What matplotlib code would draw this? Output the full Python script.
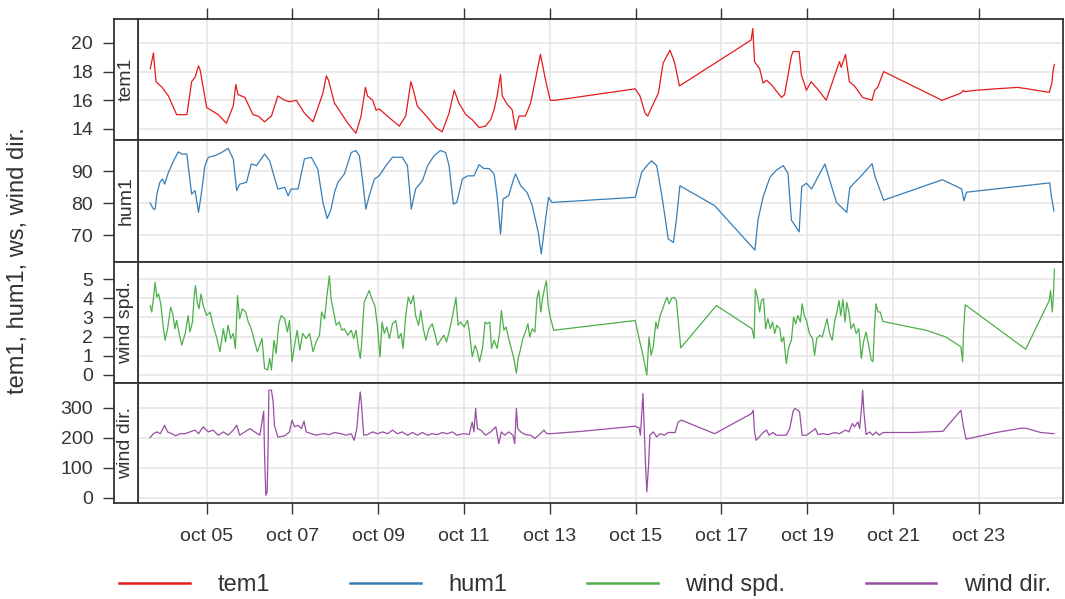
import numpy as np
import pandas as pd
import matplotlib
matplotlib.use("Agg")
from matplotlib import pyplot as plt
import matplotlib.dates as mdates
from matplotlib.lines import Line2D

plt.rcParams['font.family'] = ['Liberation Sans', 'DejaVu Sans']

# (day of October, value) pairs for each measured series
TEM1 = [(3.685, 18.2), (3.72, 18.7), (3.76, 19.3), (3.78, 18.6), (3.82, 17.3), (3.96, 16.9),
        (4.11, 16.3), (4.30, 15.0), (4.54, 15.0), (4.65, 17.3), (4.73, 17.6), (4.81, 18.4),
        (4.85, 18.1), (5.00, 15.5), (5.27, 15.0), (5.46, 14.4), (5.62, 15.6), (5.68, 17.1),
        (5.73, 16.4), (5.89, 16.2), (6.08, 15.0), (6.20, 14.9), (6.35, 14.5), (6.51, 14.9),
        (6.66, 16.3), (6.82, 16.0), (6.93, 15.9), (7.09, 16.0), (7.28, 15.1), (7.48, 14.5),
        (7.71, 16.5), (7.79, 17.7), (7.84, 17.4), (7.98, 15.8), (8.29, 14.4), (8.48, 13.7),
        (8.60, 14.9), (8.70, 16.9), (8.75, 16.3), (8.87, 16.0), (8.95, 15.3), (9.02, 15.4),
        (9.29, 14.7), (9.49, 14.2), (9.64, 14.9), (9.76, 17.3), (9.82, 16.7), (9.91, 15.6),
        (10.15, 14.8), (10.34, 14.1), (10.49, 13.8), (10.65, 15.1), (10.77, 16.7), (10.88, 15.8),
        (11.04, 15.0), (11.19, 14.65), (11.35, 14.1), (11.50, 14.2), (11.62, 14.65), (11.70, 15.35),
        (11.77, 16.3), (11.85, 17.8), (11.89, 16.3), (12.01, 15.7), (12.12, 15.35), (12.20, 13.95),
        (12.28, 14.9), (12.43, 14.9), (12.55, 15.8), (12.68, 17.7), (12.78, 19.2), (12.90, 17.4),
        (13.01, 16.0), (13.13, 16.0), (14.99, 16.8), (15.10, 16.3), (15.22, 15.1), (15.28, 14.9),
        (15.37, 15.5), (15.53, 16.5), (15.64, 18.6), (15.80, 19.5), (15.91, 18.6), (16.02, 17.0),
        (17.69, 20.2), (17.73, 21.0), (17.77, 18.7), (17.89, 18.2), (17.97, 17.2), (18.05, 17.4),
        (18.16, 17.1), (18.40, 16.2), (18.47, 16.4), (18.63, 19.1), (18.67, 19.4), (18.81, 19.4),
        (18.86, 17.8), (18.98, 16.7), (19.09, 17.3), (19.29, 16.6), (19.44, 16.0), (19.60, 17.4),
        (19.75, 18.7), (19.79, 18.3), (19.89, 19.2), (19.98, 17.3), (20.10, 17.0), (20.29, 16.2),
        (20.51, 16.0), (20.57, 16.7), (20.64, 16.9), (20.78, 18.0), (22.14, 16.0), (22.58, 16.5),
        (22.64, 16.7), (22.66, 16.6), (22.93, 16.7), (23.40, 16.8), (23.90, 16.9), (24.13, 16.8),
        (24.64, 16.55), (24.70, 17.2), (24.73, 18.1), (24.76, 18.5)]

HUM1 = [(3.685, 80.0), (3.76, 78.1), (3.80, 78.1), (3.84, 82.8), (3.91, 86.5), (3.97, 87.5),
        (4.02, 85.9), (4.11, 89.6), (4.23, 93.2), (4.34, 96.0), (4.42, 95.3), (4.54, 95.3),
        (4.57, 91.7), (4.65, 82.8), (4.73, 83.9), (4.81, 77.1), (4.87, 82.3), (4.96, 91.7),
        (5.04, 94.3), (5.19, 94.8), (5.35, 95.8), (5.50, 97.1), (5.62, 93.8), (5.70, 83.9),
        (5.77, 85.9), (5.93, 86.5), (6.04, 92.2), (6.16, 91.7), (6.35, 95.3), (6.47, 93.2),
        (6.59, 87.5), (6.66, 84.4), (6.82, 84.9), (6.90, 82.3), (6.97, 84.4), (7.13, 84.4),
        (7.28, 93.8), (7.44, 94.3), (7.59, 90.6), (7.71, 80.2), (7.81, 75.2), (7.90, 78.1),
        (7.98, 83.3), (8.06, 86.5), (8.21, 89.1), (8.37, 95.8), (8.48, 96.4), (8.56, 94.8),
        (8.64, 86.5), (8.71, 78.1), (8.79, 82.3), (8.91, 87.5), (9.02, 88.5), (9.18, 91.7),
        (9.33, 94.3), (9.56, 94.3), (9.68, 91.7), (9.77, 78.1), (9.87, 84.4), (10.03, 87.0),
        (10.15, 91.7), (10.30, 94.8), (10.45, 96.4), (10.57, 95.8), (10.65, 91.7), (10.75, 79.7),
        (10.83, 80.2), (10.96, 87.5), (11.08, 88.5), (11.23, 88.5), (11.35, 92.0), (11.46, 90.8),
        (11.58, 90.8), (11.70, 89.1), (11.77, 82.3), (11.85, 70.3), (11.91, 81.3), (12.04, 82.3),
        (12.16, 87.7), (12.20, 89.1), (12.32, 85.4), (12.47, 83.3), (12.59, 79.2), (12.73, 70.8),
        (12.80, 64.1), (12.90, 75.0), (12.97, 81.8), (13.05, 80.2), (14.99, 81.8), (15.14, 89.6),
        (15.26, 91.7), (15.37, 93.2), (15.49, 91.7), (15.61, 82.3), (15.76, 68.8), (15.88, 67.7),
        (15.95, 75.0), (16.03, 85.4), (16.84, 79.2), (17.78, 65.3), (17.85, 74.7), (17.97, 81.9),
        (18.13, 88.1), (18.28, 90.3), (18.44, 91.7), (18.55, 89.3), (18.63, 74.7), (18.81, 71.0),
        (18.87, 85.1), (18.98, 86.2), (19.10, 84.4), (19.41, 92.2), (19.68, 80.2), (19.92, 77.1),
        (19.99, 84.8), (20.23, 88.1), (20.51, 92.3), (20.58, 88.2), (20.78, 80.9), (22.15, 87.3),
        (22.60, 84.4), (22.65, 80.7), (22.71, 83.4), (24.65, 86.3), (24.69, 82.0), (24.75, 77.5)]

WIND_SPD = [(3.685, 3.62), (3.72, 3.28), (3.76, 3.97), (3.80, 4.83), (3.84, 4.05), (3.88, 4.22),
            (3.93, 3.71), (3.99, 2.50), (4.03, 1.81), (4.09, 2.41), (4.16, 3.53), (4.21, 3.19),
            (4.26, 2.41), (4.30, 2.84), (4.36, 2.16), (4.42, 1.55), (4.50, 2.16), (4.57, 3.10),
            (4.61, 2.24), (4.67, 2.76), (4.71, 4.14), (4.74, 4.66), (4.78, 3.79), (4.82, 3.45),
            (4.87, 4.22), (4.92, 3.62), (5.00, 3.10), (5.08, 3.28), (5.15, 2.59), (5.23, 1.98),
            (5.31, 1.21), (5.39, 2.41), (5.44, 1.72), (5.50, 2.59), (5.56, 1.90), (5.62, 2.16),
            (5.67, 1.38), (5.72, 4.14), (5.77, 2.93), (5.83, 3.45), (5.91, 3.28), (5.97, 2.76),
            (6.04, 2.41), (6.12, 1.72), (6.18, 1.21), (6.24, 1.55), (6.29, 1.90), (6.35, 0.34),
            (6.42, 0.26), (6.47, 0.86), (6.51, 0.26), (6.57, 1.81), (6.62, 1.12), (6.68, 2.67),
            (6.74, 3.10), (6.82, 2.93), (6.88, 2.24), (6.93, 2.84), (6.99, 0.69), (7.05, 1.55),
            (7.11, 2.33), (7.17, 1.29), (7.24, 2.16), (7.32, 1.90), (7.40, 2.16), (7.48, 1.21),
            (7.55, 1.72), (7.63, 2.07), (7.68, 3.28), (7.75, 2.93), (7.80, 4.05), (7.86, 5.17),
            (7.90, 3.97), (7.96, 3.28), (8.02, 2.59), (8.09, 2.76), (8.15, 2.33), (8.21, 2.41),
            (8.29, 2.07), (8.37, 2.33), (8.43, 1.90), (8.48, 2.33), (8.54, 1.38), (8.58, 0.86),
            (8.61, 1.55), (8.67, 3.79), (8.74, 4.14), (8.79, 4.40), (8.85, 3.97), (8.92, 3.62),
            (8.98, 2.59), (9.04, 0.95), (9.09, 2.76), (9.14, 2.16), (9.20, 2.50), (9.26, 1.90),
            (9.33, 2.67), (9.41, 2.84), (9.47, 1.90), (9.53, 2.16), (9.58, 1.38), (9.64, 3.10),
            (9.70, 4.05), (9.76, 3.71), (9.82, 4.14), (9.87, 3.10), (9.94, 2.59), (9.99, 3.36),
            (10.05, 2.41), (10.11, 1.81), (10.18, 2.41), (10.26, 2.67), (10.32, 2.16), (10.38, 1.55),
            (10.45, 1.81), (10.53, 2.07), (10.59, 1.72), (10.65, 2.24), (10.71, 2.84), (10.77, 3.53),
            (10.81, 4.05), (10.86, 2.59), (10.92, 2.76), (11.00, 2.50), (11.08, 2.84), (11.13, 2.16),
            (11.19, 0.95), (11.26, 1.55), (11.31, 1.21), (11.36, 0.69), (11.43, 1.38), (11.49, 2.76),
            (11.54, 2.67), (11.60, 2.76), (11.64, 1.38), (11.70, 1.81), (11.77, 1.38), (11.83, 2.24),
            (11.87, 3.36), (11.93, 2.33), (11.98, 2.50), (12.04, 1.90), (12.11, 1.29), (12.16, 0.86),
            (12.22, 0.09), (12.26, 0.86), (12.32, 1.38), (12.37, 1.90), (12.43, 2.24), (12.49, 2.67),
            (12.53, 1.98), (12.59, 2.41), (12.65, 2.24), (12.70, 4.00), (12.74, 4.40), (12.79, 3.28),
            (12.83, 4.00), (12.88, 4.57), (12.92, 4.91), (12.96, 3.62), (13.01, 3.00), (13.09, 2.33),
            (14.99, 2.84), (15.08, 1.90), (15.16, 1.12), (15.20, 0.69), (15.26, 0.00), (15.31, 1.98),
            (15.36, 1.03), (15.41, 1.47), (15.47, 2.76), (15.51, 2.41), (15.57, 3.10), (15.63, 3.45),
            (15.68, 3.79), (15.73, 4.05), (15.78, 3.71), (15.84, 4.00), (15.90, 4.05), (15.95, 3.88),
            (16.05, 1.41), (16.88, 3.62), (17.71, 2.41), (17.76, 1.90), (17.79, 4.48), (17.83, 4.14),
            (17.89, 3.28), (17.93, 3.88), (17.98, 3.97), (18.03, 2.41), (18.08, 2.93), (18.14, 2.41),
            (18.19, 2.76), (18.24, 2.16), (18.29, 2.59), (18.36, 2.41), (18.40, 1.72), (18.45, 1.98),
            (18.51, 0.60), (18.57, 1.47), (18.63, 1.81), (18.68, 3.02), (18.73, 2.67), (18.78, 3.10),
            (18.84, 2.76), (18.88, 3.71), (18.93, 3.10), (18.98, 2.84), (19.05, 2.16), (19.12, 1.90),
            (19.17, 1.03), (19.22, 1.90), (19.29, 2.07), (19.35, 1.98), (19.40, 2.41), (19.46, 2.93),
            (19.52, 2.16), (19.58, 1.81), (19.64, 2.84), (19.69, 3.28), (19.74, 3.88), (19.78, 3.10),
            (19.83, 3.93), (19.88, 2.76), (19.92, 3.79), (19.97, 3.28), (20.02, 2.41), (20.08, 2.67),
            (20.14, 2.16), (20.20, 2.41), (20.26, 0.86), (20.31, 1.72), (20.37, 2.24), (20.43, 1.55),
            (20.49, 0.78), (20.53, 0.69), (20.57, 2.67), (20.60, 3.71), (20.65, 3.28), (20.70, 3.28),
            (20.76, 2.79), (21.77, 2.33), (22.23, 1.98), (22.58, 1.47), (22.62, 0.69), (22.64, 2.16),
            (22.68, 3.66), (24.09, 1.34), (24.64, 3.88), (24.67, 4.40), (24.71, 3.28), (24.74, 4.31),
            (24.76, 5.52)]

WIND_DIR = [(3.685, 201), (3.76, 214), (3.84, 220), (3.92, 214), (4.02, 242), (4.09, 220),
            (4.19, 214), (4.28, 207), (4.38, 214), (4.50, 214), (4.61, 220), (4.73, 226),
            (4.81, 214), (4.92, 237), (5.04, 220), (5.15, 226), (5.27, 209), (5.39, 220),
            (5.50, 209), (5.62, 226), (5.70, 242), (5.77, 209), (5.89, 220), (6.01, 231),
            (6.12, 220), (6.24, 209), (6.29, 253), (6.33, 289), (6.35, 142), (6.38, 9),
            (6.41, 20), (6.43, 148), (6.45, 359), (6.51, 359), (6.55, 320), (6.58, 242),
            (6.66, 203), (6.82, 207), (6.93, 220), (6.99, 259), (7.05, 237), (7.13, 242),
            (7.21, 231), (7.27, 256), (7.32, 220), (7.44, 214), (7.55, 209), (7.71, 214),
            (7.86, 211), (7.98, 218), (8.13, 214), (8.25, 209), (8.37, 214), (8.44, 192),
            (8.50, 231), (8.55, 314), (8.58, 353), (8.61, 309), (8.66, 209), (8.75, 211),
            (8.87, 220), (8.98, 214), (9.10, 220), (9.22, 214), (9.33, 226), (9.45, 214),
            (9.56, 220), (9.68, 209), (9.80, 218), (9.91, 209), (10.03, 218), (10.15, 209),
            (10.26, 214), (10.38, 211), (10.49, 218), (10.61, 214), (10.73, 220), (10.83, 209),
            (10.88, 211), (11.00, 214), (11.12, 211), (11.19, 253), (11.23, 220), (11.27, 298),
            (11.31, 231), (11.39, 226), (11.50, 209), (11.62, 220), (11.74, 237), (11.81, 181),
            (11.87, 220), (11.95, 209), (12.04, 220), (12.14, 209), (12.18, 181), (12.22, 298),
            (12.25, 231), (12.32, 220), (12.43, 211), (12.55, 209), (12.65, 198), (12.74, 209),
            (12.86, 226), (12.93, 214), (13.01, 214), (13.75, 222), (14.99, 239), (15.08, 233),
            (15.11, 209), (15.14, 276), (15.17, 348), (15.20, 231), (15.23, 109), (15.26, 20),
            (15.30, 109), (15.33, 209), (15.41, 220), (15.49, 203), (15.57, 214), (15.67, 209),
            (15.76, 218), (15.92, 218), (15.99, 253), (16.07, 259), (16.84, 214), (17.70, 281),
            (17.74, 292), (17.77, 220), (17.81, 192), (17.89, 205), (17.97, 218), (18.05, 226),
            (18.11, 209), (18.20, 218), (18.28, 209), (18.40, 209), (18.51, 209), (18.59, 231),
            (18.67, 289), (18.71, 298), (18.78, 292), (18.82, 287), (18.88, 209), (18.98, 209),
            (19.09, 220), (19.19, 231), (19.25, 211), (19.36, 214), (19.48, 211), (19.64, 218),
            (19.75, 214), (19.89, 226), (19.97, 220), (20.05, 248), (20.10, 237), (20.18, 253),
            (20.22, 231), (20.27, 309), (20.29, 359), (20.32, 287), (20.37, 211), (20.45, 220),
            (20.53, 209), (20.60, 220), (20.68, 209), (20.76, 218), (21.46, 218), (22.16, 222),
            (22.58, 292), (22.64, 237), (22.70, 196), (22.93, 203), (23.40, 218), (24.02, 233),
            (24.13, 231), (24.44, 218), (24.75, 214)]

labels = ["tem1", "hum1", "wind spd.", "wind dir."]
series = [TEM1, HUM1, WIND_SPD, WIND_DIR]
colors = ["#E41A1C", "#377EB8", "#4DAF4A", "#984EA3"]
yticks = [[14, 16, 18, 20], [70, 80, 90], [0, 1, 2, 3, 4, 5], [0, 100, 200, 300]]
ylims = [(13.23, 21.67), (61.6, 99.7), (-0.42, 5.89), (-17, 383)]

month_start = pd.Timestamp("2019-10-01")


def to_dates(days):
    return month_start + pd.to_timedelta(np.asarray(days) - 1, unit="D")


W, H = 1065, 599
fig = plt.figure(figsize=(W / 100, H / 100), dpi=100)

edges = [19, 140, 262, 383, 503]
x_left, x_strip, x_right = 114, 138, 1063
frame_col = "#333333"
text_col = "#333333"

axes = []
for i, (lab, data, col) in enumerate(zip(labels, series, colors)):
    top, bot = edges[i], edges[i + 1]
    ax = fig.add_axes([x_strip / W, 1 - bot / H, (x_right - x_strip) / W, (bot - top) / H],
                      sharex=axes[0] if axes else None)
    strip = fig.add_axes([x_left / W, 1 - bot / H, (x_strip - x_left) / W, (bot - top) / H],
                         sharey=ax)
    days, vals = zip(*data)
    ax.plot(to_dates(days), vals, color=col, lw=0.9)
    ax.set_ylim(*ylims[i])
    ax.set_yticks(yticks[i])
    ax.grid(True, color="#e6e6e6", lw=1.2)
    ax.set_axisbelow(True)
    ax.tick_params(axis="y", left=False, labelleft=False)
    for sp in ax.spines.values():
        sp.set_color(frame_col)
        sp.set_linewidth(1.3)

    strip.set_xticks([])
    strip.tick_params(axis="y", direction="out", length=8, width=1, color=frame_col,
                      pad=7, labelsize=14, labelcolor=text_col)
    for sp in strip.spines.values():
        sp.set_color(frame_col)
        sp.set_linewidth(1.3)
    strip.text(0.5, 0.5, lab, rotation=90, ha="center", va="center",
               transform=strip.transAxes, fontsize=14, color=text_col)
    axes.append(ax)

axes[0].set_xlim(to_dates([3.40])[0], to_dates([24.96])[0])
axes[0].xaxis.set_major_locator(mdates.DayLocator(bymonthday=range(5, 25, 2)))
axes[0].xaxis.set_major_formatter(
    plt.FuncFormatter(lambda v, p: mdates.num2date(v).strftime("%b %d").lower()))

for i, ax in enumerate(axes):
    first, last = i == 0, i == len(axes) - 1
    ax.tick_params(axis="x", direction="out", length=8, width=1, color=frame_col,
                   top=first, bottom=last, labeltop=False, labelbottom=last,
                   labelsize=14, labelcolor=text_col, pad=10)

fig.text(18 / W, 1 - 261 / H, "tem1, hum1, ws, wind dir.", rotation=90,
         ha="center", va="center", fontsize=17, color=text_col)

handles = [Line2D([], [], color=c, lw=1.8) for c in colors]
fig.legend(handles, labels, loc="center", bbox_to_anchor=(585 / W, 1 - 585 / H),
           ncol=4, frameon=False, fontsize=17, handlelength=3.0, handletextpad=1.15,
           columnspacing=3.4, labelcolor=text_col)

fig.savefig("out.png", dpi=100)
